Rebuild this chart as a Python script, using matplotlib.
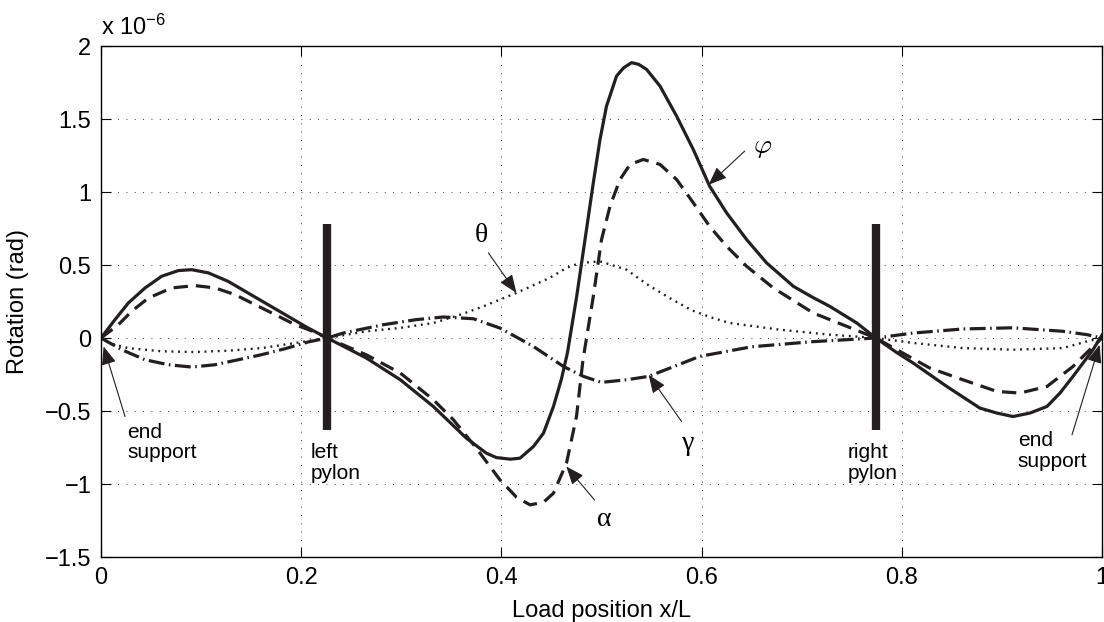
import matplotlib
matplotlib.use("Agg")
import matplotlib.pyplot as plt

plt.rcParams['font.family'] = ['Liberation Sans', 'DejaVu Sans']
plt.rcParams['mathtext.fontset'] = 'custom'
plt.rcParams['mathtext.rm'] = 'Liberation Sans'
plt.rcParams['mathtext.it'] = 'Liberation Sans:italic'

# rotation values, units of 1e-6 rad
phi_x = [0, 0.014, 0.0273, 0.044, 0.0606, 0.0773, 0.0906, 0.1073, 0.127, 0.147,
         0.167, 0.187, 0.207, 0.226, 0.265, 0.299, 0.332, 0.365, 0.385, 0.395,
         0.409, 0.4186, 0.432, 0.442, 0.452, 0.460, 0.466, 0.4752, 0.4835, 0.4918,
         0.4985, 0.505, 0.515, 0.522, 0.530, 0.537, 0.545, 0.5584, 0.575, 0.5917,
         0.608, 0.625, 0.645, 0.665, 0.6917, 0.710, 0.728, 0.755, 0.774, 0.795,
         0.8115, 0.845, 0.878, 0.895, 0.911, 0.928, 0.945, 0.958, 0.971, 0.991, 1.0]
phi_y = [0, 0.126, 0.240, 0.343, 0.423, 0.462, 0.468, 0.446, 0.388, 0.308,
         0.228, 0.148, 0.068, 0, -0.137, -0.286, -0.469, -0.686, -0.789, -0.819,
         -0.830, -0.823, -0.743, -0.652, -0.469, -0.28, -0.10, 0.285, 0.674, 1.063,
         1.360, 1.589, 1.794, 1.850, 1.886, 1.875, 1.840, 1.726, 1.520, 1.291,
         1.040, 0.857, 0.674, 0.514, 0.354, 0.282, 0.217, 0.103, 0, -0.10,
         -0.172, -0.332, -0.480, -0.514, -0.538, -0.514, -0.469, -0.377, -0.263, -0.080, 0.02]

alpha_x = [0, 0.0173, 0.0306, 0.0473, 0.0706, 0.0939, 0.1139, 0.134, 0.154, 0.174,
           0.194, 0.214, 0.226, 0.265, 0.299, 0.332, 0.352, 0.375, 0.3986, 0.415,
           0.4286, 0.442, 0.452, 0.465, 0.475, 0.4815, 0.4918, 0.500, 0.5085, 0.5185,
           0.5285, 0.5417, 0.5584, 0.575, 0.5917, 0.608, 0.625, 0.645, 0.6716, 0.7116,
           0.745, 0.774, 0.795, 0.828, 0.861, 0.895, 0.918, 0.945, 0.971, 0.991, 1.0]
alpha_y = [0, 0.091, 0.183, 0.274, 0.343, 0.359, 0.343, 0.297, 0.228, 0.160,
           0.091, 0.040, 0, -0.115, -0.240, -0.423, -0.560, -0.755, -0.972, -1.090,
           -1.143, -1.125, -1.063, -0.857, -0.538, -0.149, 0.285, 0.674, 0.903, 1.086,
           1.189, 1.223, 1.189, 1.086, 0.926, 0.765, 0.628, 0.491, 0.343, 0.171,
           0.080, 0, -0.080, -0.206, -0.286, -0.366, -0.377, -0.332, -0.195, -0.058, 0.0]

theta_x = [0, 0.008, 0.027, 0.0606, 0.0939, 0.127, 0.1605, 0.194, 0.226, 0.265,
           0.2987, 0.332, 0.359, 0.382, 0.415, 0.448, 0.465, 0.4785, 0.4985, 0.525,
           0.545, 0.568, 0.590, 0.610, 0.628, 0.678, 0.728, 0.774, 0.8115, 0.861,
           0.911, 0.961, 0.985, 1.0]
theta_y = [0, -0.034, -0.069, -0.091, -0.096, -0.087, -0.069, -0.034, 0, 0.046,
           0.069, 0.103, 0.160, 0.217, 0.309, 0.411, 0.480, 0.514, 0.525, 0.468,
           0.370, 0.274, 0.190, 0.140, 0.103, 0.057, 0.023, 0, -0.034, -0.069,
           -0.080, -0.069, -0.023, 0]

gamma_x = [0, 0.0207, 0.044, 0.0673, 0.0906, 0.1139, 0.137, 0.1605, 0.184, 0.207,
           0.226, 0.242, 0.282, 0.315, 0.342, 0.372, 0.3986, 0.432, 0.462, 0.482,
           0.500, 0.525, 0.547, 0.598, 0.650, 0.711, 0.774, 0.8115, 0.861, 0.911,
           0.961, 0.985, 1.0]
gamma_y = [0, -0.080, -0.149, -0.183, -0.199, -0.183, -0.149, -0.114, -0.073, -0.027,
           0, 0.034, 0.091, 0.126, 0.144, 0.132, 0.068, -0.058, -0.195, -0.263,
           -0.304, -0.286, -0.263, -0.126, -0.060, -0.025, 0, 0.034, 0.062, 0.070,
           0.046, 0.023, 0]

pylon_x = [0.2255, 0.774]
pylon_lo, pylon_hi = -0.63, 0.78

xticks = [0, 0.2, 0.4, 0.6, 0.8, 1]
xticklabels = ['0', '0.2', '0.4', '0.6', '0.8', '1']
yticks = [-1.5, -1, -0.5, 0, 0.5, 1, 1.5, 2]
yticklabels = ['\u22121.5', '\u22121', '\u22120.5', '0', '0.5', '1', '1.5', '2']

ink = '#231f20'

fig = plt.figure(figsize=(11.04, 6.22), dpi=100)
ax = fig.add_axes([0.0915, 0.1045, 0.9067, 0.8215])

ax.plot(phi_x, phi_y, color=ink, lw=2.3, solid_joinstyle='round')
ax.plot(alpha_x, alpha_y, color=ink, lw=2.3, dashes=(4.5, 2.5), dash_joinstyle='round')
ax.plot(theta_x, theta_y, color=ink, lw=1.7, dashes=(0.8, 2.0))
ax.plot(gamma_x, gamma_y, color=ink, lw=2.3, dashes=(5, 1.4, 0.5, 1.4))
ax.vlines(pylon_x, pylon_lo, pylon_hi, color=ink, lw=6)

ax.set_xlim(0, 1)
ax.set_ylim(-1.5, 2)
ax.set_xticks(xticks)
ax.set_xticklabels(xticklabels)
ax.set_yticks(yticks)
ax.set_yticklabels(yticklabels)
ax.tick_params(direction='in', top=True, right=True, length=7, width=0.8,
               labelsize=17, pad=7)
ax.grid(True, color='k', lw=0.6, linestyle=(0, (1, 9)))
for s in ax.spines.values():
    s.set_linewidth(1.0)

ax.set_xlabel('Load position x/L', fontsize=17)
ax.set_ylabel('Rotation (rad)', fontsize=17)
ax.xaxis.set_label_coords(0.5, -0.085)
ax.yaxis.set_label_coords(-0.072, 0.5)
ax.text(0.0, 1.012, r'x 10$^{-6}$', transform=ax.transAxes, fontsize=17,
        ha='left', va='bottom')

arrow = dict(arrowstyle='-|>,head_length=0.7,head_width=0.28', color=ink,
             lw=0.8, mutation_scale=16, shrinkA=0, shrinkB=0)

# annotation arrows (tail -> head) and labels
ax.annotate('', xy=(0.0026, -0.058), xytext=(0.024, -0.538), arrowprops=arrow)
ax.text(0.026, -0.58, 'end\nsupport', fontsize=15, ha='left', va='top', linespacing=1.1)
ax.annotate('', xy=(0.9976, -0.046), xytext=(0.970, -0.663), arrowprops=arrow)
ax.text(0.916, -0.64, 'end\nsupport', fontsize=15, ha='left', va='top', linespacing=1.1)
ax.text(0.2098, -0.72, 'left\npylon', fontsize=15, ha='left', va='top', linespacing=1.1)
ax.text(0.746, -0.72, 'right\npylon', fontsize=15, ha='left', va='top', linespacing=1.1)

greek = dict(fontsize=20, family=['Liberation Serif', 'DejaVu Serif'],
             ha='center', va='center')
ax.annotate('', xy=(0.415, 0.309), xytext=(0.387, 0.583), arrowprops=arrow)
ax.text(0.38, 0.70, '\u03b8', **greek)
ax.annotate('', xy=(0.607, 1.05), xytext=(0.643, 1.28), arrowprops=arrow)
ax.text(0.661, 1.31, r'$\varphi$', fontsize=20, ha='center', va='center',
        math_fontfamily='cm')
ax.annotate('', xy=(0.547, -0.252), xytext=(0.580, -0.572), arrowprops=arrow)
ax.text(0.587, -0.72, '\u03b3', **greek)
ax.annotate('', xy=(0.4648, -0.88), xytext=(0.493, -1.109), arrowprops=arrow)
ax.text(0.5025, -1.24, '\u03b1', **greek)

fig.savefig('out.png', dpi=100)
